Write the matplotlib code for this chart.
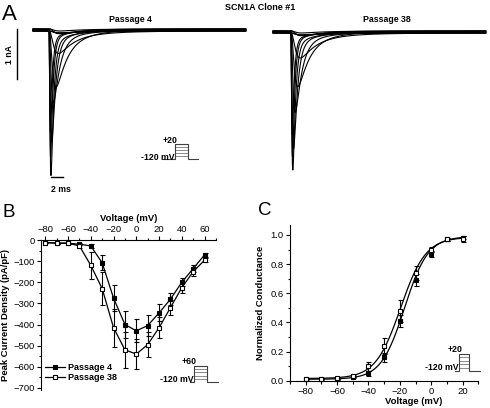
import numpy as np
import matplotlib
matplotlib.use("Agg")
import matplotlib.pyplot as plt
from matplotlib.lines import Line2D
from matplotlib.ticker import MultipleLocator

plt.rcParams['font.family'] = ['Liberation Sans', 'DejaVu Sans']

# ---------------- data ----------------
# Panel A: current traces (test pulses -80 ... +20 mV)
trace_voltages = [-80, -70, -60, -50, -40, -30, -20, -10, 0, 10, 20]
p4_peak_nA = [0.03, 0.04, 0.05, 0.10, 0.45, 1.15, 1.45, 2.25, 2.90, 2.55, 2.05]
p38_peak_nA = [0.03, 0.04, 0.05, 0.10, 0.50, 1.10, 1.60, 2.35, 2.75, 2.50, 2.05]
tau_act_ms = [0.6, 0.6, 0.6, 0.6, 0.55, 0.42, 0.28, 0.18, 0.13, 0.11, 0.10]
tau_inact_ms = [3.0, 3.0, 3.0, 3.0, 2.4, 1.7, 1.0, 0.6, 0.42, 0.35, 0.30]
slow_frac = [0.3, 0.3, 0.3, 0.3, 0.18, 0.14, 0.08, 0.05, 0.04, 0.03, 0.03]
tau_slow_ms = [6, 6, 6, 6, 6, 5, 4, 4, 3, 3, 3]
baseline_offset_nA = [-0.025, 0.02, -0.015, 0.025, -0.02, 0.01, -0.005, 0.015, -0.01, 0.005, 0.0]

# Panel B: I-V relationship
iv_voltage = [-80, -70, -60, -50, -40, -30, -20, -10, 0, 10, 20, 30, 40, 50, 60]
iv_p4 = [-12, -15, -15, -20, -28, -108, -275, -400, -430, -405, -345, -280, -200, -135, -70]
iv_p4_err = [3, 3, 3, 5, 8, 35, 60, 65, 55, 50, 40, 30, 20, 15, 10]
iv_p38 = [-12, -15, -15, -28, -120, -230, -415, -520, -540, -495, -415, -320, -225, -150, -95]
iv_p38_err = [3, 3, 3, 8, 65, 80, 90, 85, 70, 60, 50, 35, 25, 20, 10]

# Panel C: conductance-voltage
gv_voltage = [-80, -70, -60, -50, -40, -30, -20, -10, 0, 10, 20]
gv_p4 = [0.01, 0.01, 0.01, 0.025, 0.05, 0.16, 0.41, 0.69, 0.87, 0.97, 0.98]
gv_p4_err = [0.005, 0.005, 0.005, 0.008, 0.015, 0.03, 0.04, 0.04, 0.02, 0.01, 0.01]
gv_p38 = [0.015, 0.015, 0.02, 0.03, 0.10, 0.24, 0.48, 0.74, 0.90, 0.97, 0.97]
gv_p38_err = [0.005, 0.005, 0.005, 0.008, 0.03, 0.055, 0.075, 0.05, 0.02, 0.01, 0.02]
# Boltzmann fit parameters: [g0, gmax, V1/2, k]
fit_p4 = [0.01, 0.99, -17.0, 7.5]
fit_p38 = [0.015, 0.985, -19.5, 8.0]

W, H = 490, 408
fig = plt.figure(figsize=(W / 100, H / 100), dpi=100)


def fx(x):
    return x / W


def fy(y):
    return 1 - y / H


def rect(x0, y0, x1, y1):
    return [fx(x0), fy(y1), fx(x1) - fx(x0), fy(y0) - fy(y1)]


def ftext(x, y, s, **kw):
    fig.text(fx(x), fy(y), s, **kw)


def fline(xs, ys, **kw):
    fig.add_artist(Line2D([fx(v) for v in xs], [fy(v) for v in ys], **kw))


def protocol(xl, xon, xoff, xr, yb, yt, nlev):
    for k in range(1, nlev + 1):
        yy = yb - (yb - yt) * k / (nlev + 1)
        fline([xon, xoff], [yy, yy], color='0.55', lw=0.7)
    fline([xl, xon, xon, xoff, xoff, xr], [yb, yb, yt, yt, yb, yb], color='0.25', lw=0.8)


# ---------------- Panel A ----------------
t = np.arange(0, 34.6, 0.01)


def trace(onset, A, tm, th, fs, ts, off):
    tt = np.clip(t - onset, 0, None)
    shape = (1 - np.exp(-tt / tm)) ** 3 * ((1 - fs) * np.exp(-tt / th) + fs * np.exp(-tt / ts))
    shape = shape / shape.max()
    return off - A * shape


axA1 = fig.add_axes(rect(0, 22, 250, 200))
axA1.set_xlim(-5.366, 35.28)
axA1.set_ylim(-3.4, 0.16)
axA1.axis('off')
axA2 = fig.add_axes(rect(250, 22, 490, 200))
axA2.set_xlim(-3.74, 35.28)
axA2.set_ylim(-3.36, 0.2)
axA2.axis('off')

for i in range(len(trace_voltages)):
    axA1.plot(t, trace(2.6, p4_peak_nA[i], tau_act_ms[i], tau_inact_ms[i], slow_frac[i],
                       tau_slow_ms[i], baseline_offset_nA[i]), color='black', lw=0.8)
    axA2.plot(t, trace(2.9, p38_peak_nA[i], tau_act_ms[i], tau_inact_ms[i], slow_frac[i],
                       tau_slow_ms[i], baseline_offset_nA[i]), color='black', lw=0.8)

# scale bars
axA1.plot([-2.55, -2.55], [0.02, -0.98], color='black', lw=1.0, clip_on=False)
axA1.plot([2.93, 4.93], [-2.93, -2.93], color='black', lw=1.0, clip_on=False)
ftext(10, 55, '1 nA', rotation=90, ha='center', va='center', fontsize=6.3, fontweight='bold')
ftext(61, 189, '2 ms', ha='center', va='center', fontsize=6.3, fontweight='bold')

ftext(2, 19.5, 'A', fontsize=16, ha='left', va='baseline')
ftext(260, 8, 'SCN1A Clone #1', ha='center', va='center', fontsize=6.5, fontweight='bold')
ftext(130, 20, 'Passage 4', ha='center', va='center', fontsize=6.3, fontweight='bold')
ftext(387, 20, 'Passage 38', ha='center', va='center', fontsize=6.3, fontweight='bold')

protocol(163, 175, 188, 198, 159, 144, 4)
ftext(170, 140.5, '+20', ha='center', va='center', fontsize=6.3, fontweight='bold')
ftext(175, 157, '-120 mV', ha='right', va='center', fontsize=6.3, fontweight='bold')

# ---------------- Panel B ----------------
axB = fig.add_axes(rect(40.7, 240, 216, 390))
axB.set_xlim(-84, 70)
axB.set_ylim(-710, 0)
for s in ['bottom', 'right']:
    axB.spines[s].set_visible(False)
axB.xaxis.tick_top()
axB.xaxis.set_label_position('top')
axB.xaxis.set_major_locator(MultipleLocator(20))
axB.xaxis.set_minor_locator(MultipleLocator(10))
axB.yaxis.set_major_locator(MultipleLocator(100))
axB.yaxis.set_minor_locator(MultipleLocator(50))
axB.tick_params(which='both', direction='out', width=0.8, labelsize=6.8, pad=1.5)
axB.tick_params(which='major', length=3)
axB.tick_params(which='minor', length=1.8)
for s in ['top', 'left']:
    axB.spines[s].set_linewidth(0.8)
axB.set_xlabel('Voltage (mV)', fontsize=6.8, fontweight='bold', labelpad=3)
axB.set_ylabel('Peak Current Density (pA/pF)', fontsize=6.8, fontweight='bold', labelpad=2)

axB.errorbar(iv_voltage, iv_p4, yerr=iv_p4_err, fmt='none', ecolor='black', elinewidth=0.8,
             capsize=1.8, capthick=0.8, clip_on=False)
axB.errorbar(iv_voltage, iv_p38, yerr=iv_p38_err, fmt='none', ecolor='black', elinewidth=0.8,
             capsize=1.8, capthick=0.8, clip_on=False)
lB1, = axB.plot(iv_voltage, iv_p4, '-s', color='black', lw=0.9, ms=3.2, mfc='black', mec='black',
                mew=0.8, clip_on=False, label='Passage 4')
lB2, = axB.plot(iv_voltage, iv_p38, '-s', color='black', lw=0.9, ms=3.2, mfc='white', mec='black',
                mew=0.8, clip_on=False, label='Passage 38')
axB.legend(handles=[lB1, lB2], loc='upper left', bbox_to_anchor=(fx(45), fy(363)),
           bbox_transform=fig.transFigure, frameon=False, borderpad=0, borderaxespad=0,
           handlelength=2.2, handletextpad=0.3, labelspacing=0.1, numpoints=1,
           prop={'size': 6.5, 'weight': 'bold'})

ftext(3, 216.7, 'B', fontsize=13.5, ha='left', va='baseline')
protocol(190, 194, 207, 218, 382, 366, 4)
ftext(189.5, 361, '+60', ha='center', va='center', fontsize=6.3, fontweight='bold')
ftext(194, 379, '-120 mV', ha='right', va='center', fontsize=6.3, fontweight='bold')

# ---------------- Panel C ----------------
axC = fig.add_axes(rect(290, 224.8, 478.3, 380.7))
axC.set_xlim(-90, 30)
axC.set_ylim(0, 1.07)
for s in ['top', 'right']:
    axC.spines[s].set_visible(False)
axC.xaxis.set_major_locator(MultipleLocator(20))
axC.xaxis.set_minor_locator(MultipleLocator(10))
axC.yaxis.set_major_locator(MultipleLocator(0.2))
axC.yaxis.set_minor_locator(MultipleLocator(0.1))
axC.yaxis.set_major_formatter(matplotlib.ticker.FormatStrFormatter('%.1f'))
axC.tick_params(which='both', direction='out', width=0.8, labelsize=6.8, pad=1.5)
axC.tick_params(which='major', length=3)
axC.tick_params(which='minor', length=1.8)
for s in ['bottom', 'left']:
    axC.spines[s].set_linewidth(0.8)
axC.set_ylabel('Normalized Conductance', fontsize=6.8, fontweight='bold', labelpad=4)

vfit = np.linspace(-80, 20, 400)


def boltz(v, p):
    return p[0] + (p[1] - p[0]) / (1 + np.exp((p[2] - v) / p[3]))


axC.plot(vfit, boltz(vfit, fit_p4), color='black', lw=0.9)
axC.plot(vfit, boltz(vfit, fit_p38), color='black', lw=0.9)
axC.errorbar(gv_voltage, gv_p4, yerr=gv_p4_err, fmt='none', ecolor='black', elinewidth=0.8,
             capsize=1.8, capthick=0.8)
axC.errorbar(gv_voltage, gv_p38, yerr=gv_p38_err, fmt='none', ecolor='black', elinewidth=0.8,
             capsize=1.8, capthick=0.8)
axC.plot(gv_voltage, gv_p4, 's', ms=3.2, mfc='black', mec='black', mew=0.8, clip_on=False)
axC.plot(gv_voltage, gv_p38, 's', ms=3.2, mfc='white', mec='black', mew=0.8, clip_on=False)

ftext(414, 402, 'Voltage (mV)', ha='center', va='center', fontsize=6.8, fontweight='bold')
ftext(258, 215, 'C', fontsize=13.5, ha='left', va='baseline')
protocol(455, 459, 469, 480, 371, 354, 4)
ftext(455, 349, '+20', ha='center', va='center', fontsize=6.3, fontweight='bold')
ftext(459, 367, '-120 mV', ha='right', va='center', fontsize=6.3, fontweight='bold')

fig.savefig('out.png', dpi=100)
